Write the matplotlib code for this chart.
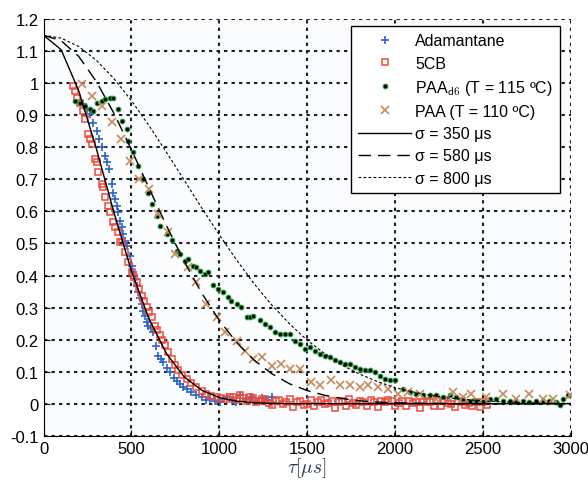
import matplotlib
matplotlib.use("Agg")
import matplotlib.pyplot as plt

plt.rcParams['font.family'] = ['Liberation Sans', 'DejaVu Sans']
plt.rcParams['mathtext.fontset'] = 'cm'

# Adamantane (+)
ada_x = [226, 245, 264, 283, 302, 317, 331, 349, 359, 374, 387, 397, 406, 416, 425, 435, 444, 453, 463,
         473, 491, 501, 510, 520, 530, 539, 548, 558, 567, 577, 586, 595, 610, 624, 640, 652, 667, 681,
         700, 719, 740, 758, 776, 795, 814, 840, 870, 900, 925, 946, 975, 1003, 1020, 1041, 1070, 1095,
         1117, 1150, 1180, 1210, 1240, 1270, 1300]
ada_y = [0.935, 0.919, 0.903, 0.877, 0.851, 0.826, 0.800, 0.774, 0.753, 0.732, 0.685, 0.659, 0.639, 0.618,
         0.597, 0.571, 0.550, 0.530, 0.509, 0.493, 0.462, 0.431, 0.410, 0.389, 0.368, 0.348, 0.330, 0.312,
         0.290, 0.275, 0.255, 0.244, 0.235, 0.223, 0.180, 0.150, 0.140, 0.130, 0.110, 0.099, 0.080, 0.070,
         0.062, 0.052, 0.047, 0.035, 0.026, 0.020, 0.012, 0.016, 0.008, 0.005, 0.014, 0.021, 0.012, 0.006,
         0.026, 0.015, 0.022, 0.010, 0.018, 0.012, 0.020]

# 5CB (squares)
cb_x = [169, 179, 189, 207, 226, 236, 255, 264, 274, 293, 302, 311, 331, 340, 349, 368, 378, 397, 406,
        425, 435, 444, 463, 482, 501, 515, 530, 545, 558, 572, 586, 600, 615, 634, 648, 662, 676, 690,
        710, 728, 748, 766, 790, 814, 840, 870, 900, 927, 955, 984, 1010, 1041, 1060, 1080, 1100, 1117,
        1135, 1155, 1172, 1190, 1210, 1230, 1245, 1260, 1280,
        1300, 1320, 1340, 1360, 1380, 1400, 1420, 1440, 1460, 1480,
        1500, 1520, 1540, 1560, 1580, 1600, 1620, 1640, 1660, 1680,
        1700, 1720, 1740, 1760, 1780, 1800, 1820, 1840, 1860, 1880,
        1900, 1920, 1940, 1960, 1980, 2000, 2020, 2040, 2060, 2080,
        2100, 2120, 2140, 2160, 2180, 2200, 2220, 2240, 2260, 2280,
        2300, 2320, 2340, 2360, 2380, 2400, 2420, 2440, 2460, 2480,
        2500, 2520]
cb_y = [0.992, 0.976, 0.955, 0.940, 0.914, 0.888, 0.841, 0.826, 0.810, 0.763, 0.753, 0.722, 0.685, 0.675,
        0.644, 0.618, 0.597, 0.566, 0.550, 0.535, 0.504, 0.504, 0.473, 0.441, 0.410, 0.395, 0.379, 0.358,
        0.337, 0.320, 0.301, 0.285, 0.270, 0.244, 0.230, 0.213, 0.198, 0.182, 0.160, 0.140, 0.120, 0.104,
        0.090, 0.078, 0.065, 0.052, 0.040, 0.031, 0.025, 0.021, 0.018, 0.016, 0.022, 0.020, 0.012, 0.026,
        0.018, 0.010, 0.020, 0.018, 0.006, 0.008, 0.016, 0.015, 0.002, -0.005,
        0.010, 0.012, -0.002, 0.004, 0.014, -0.010, 0.006, 0.010, -0.004, 0.000,
        0.012, -0.008, 0.004, 0.012, -0.002, 0.002, 0.008, -0.012, 0.006, 0.008,
        -0.006, 0.014, 0.002, -0.004, 0.010, 0.006, -0.008, 0.012, 0.004, -0.010,
        0.008, 0.004, 0.012, 0.010, -0.006, 0.002, 0.008, -0.008, 0.010, 0.002,
        0.006, -0.012, 0.004, 0.010, 0.004, -0.006, 0.008, -0.008, 0.012, 0.002,
        0.000, -0.010, 0.008, 0.006, -0.004, 0.002, -0.008, 0.004, -0.010, 0.006,
        -0.004]

# PAA d6 (dots)
d6_x = [179, 207, 236, 264, 283, 302, 331, 349, 378, 397, 425, 444, 473, 482, 510, 539, 567, 595, 615,
        643, 662, 700, 728, 757, 776, 804, 823, 851, 870, 889, 918, 936, 965, 993, 1022, 1050, 1069, 1098,
        1126, 1155, 1173, 1192, 1230, 1259, 1287, 1315, 1344, 1372, 1401, 1429, 1457, 1486, 1514, 1543,
        1571, 1599, 1628, 1656, 1685, 1713, 1741, 1770, 1798, 1827, 1855, 1884, 1912, 1940, 1969, 1997,
        2044, 2083, 2121, 2158, 2196, 2234, 2272, 2310, 2348, 2385, 2423, 2461, 2499, 2537, 2575, 2613,
        2651, 2689, 2726, 2764, 2802, 2840, 2878, 2916, 2935, 2953, 2982]
d6_y = [0.945, 0.940, 0.929, 0.919, 0.914, 0.940, 0.945, 0.950, 0.955, 0.955, 0.919, 0.883, 0.857, 0.820,
        0.784, 0.742, 0.701, 0.659, 0.623, 0.587, 0.555, 0.530, 0.510, 0.478, 0.467, 0.446, 0.452, 0.431,
        0.426, 0.415, 0.405, 0.410, 0.369, 0.358, 0.348, 0.332, 0.322, 0.312, 0.301, 0.270, 0.270, 0.275,
        0.260, 0.249, 0.239, 0.223, 0.218, 0.218, 0.218, 0.197, 0.187, 0.171, 0.177, 0.166, 0.156, 0.150,
        0.145, 0.135, 0.130, 0.125, 0.125, 0.114, 0.109, 0.104, 0.104, 0.099, 0.088, 0.078, 0.073, 0.073,
        0.047, 0.036, 0.031, 0.026, 0.026, 0.026, 0.021, 0.026, 0.021, 0.016, 0.010, 0.010, 0.005, 0.016,
        0.016, 0.010, 0.010, 0.007, 0.010, 0.005, 0.010, 0.010, 0.007, 0.005, -0.005, 0.016, 0.026]

# PAA (x)
paa_x = [217, 274, 331, 387, 439, 491, 544, 599, 652, 709, 747, 823, 870, 927, 984, 1031, 1098, 1145,
         1192, 1240, 1297, 1353, 1401, 1457, 1524, 1571, 1638, 1685, 1741, 1798, 1846, 1903, 1960, 2016,
         2073, 2139, 2234, 2329, 2385, 2433, 2518, 2613, 2689, 2764, 2840, 2897, 2992]
paa_y = [0.997, 0.960, 0.929, 0.879, 0.827, 0.758, 0.701, 0.670, 0.592, 0.535, 0.467, 0.426, 0.379, 0.312,
         0.270, 0.223, 0.197, 0.164, 0.140, 0.145, 0.119, 0.125, 0.109, 0.109, 0.068, 0.057, 0.073, 0.057,
         0.057, 0.052, 0.057, 0.052, 0.047, 0.031, 0.036, 0.031, 0.016, 0.036, 0.021, 0.031, 0.021, 0.031,
         0.016, 0.031, 0.016, 0.016, 0.026]

# model curves
fit_x = [0, 100, 200, 300, 400, 500, 600, 700, 800, 900, 1000, 1100, 1200, 1300, 1400, 1500, 1600,
         1700, 1800, 1900, 2000, 2100, 2200, 2300, 2400, 2500, 2600, 2700, 2800, 2900, 3000]
fit_350 = [1.15, 1.105, 0.977, 0.797, 0.598, 0.414, 0.265, 0.156, 0.084, 0.042, 0.019, 0.008, 0.003,
           0.001, 0, 0, 0, 0, 0, 0, 0, 0, 0, 0, 0, 0, 0, 0, 0, 0, 0]
fit_580 = [1.15, 1.133, 1.084, 1.006, 0.907, 0.793, 0.673, 0.555, 0.444, 0.345, 0.260, 0.190, 0.135,
           0.093, 0.062, 0.041, 0.026, 0.016, 0.009, 0.005, 0.003, 0.002, 0.001, 0, 0, 0, 0, 0, 0, 0, 0]
fit_800 = [1.15, 1.141, 1.115, 1.072, 1.015, 0.946, 0.868, 0.784, 0.698, 0.611, 0.527, 0.447, 0.373,
           0.307, 0.249, 0.198, 0.156, 0.120, 0.092, 0.069, 0.050, 0.037, 0.026, 0.018, 0.013, 0.009,
           0.006, 0.004, 0.003, 0.002, 0.001]

fig, ax = plt.subplots(figsize=(5.88, 4.81), dpi=100)
fig.subplots_adjust(left=0.074, right=0.971, top=0.958, bottom=0.092)
ax.set_facecolor('#fbfcfe')

ax.plot(ada_x, ada_y, '+', color='#2a64c8', markersize=6, mew=1.2, label='Adamantane')
ax.plot(cb_x, cb_y, 's', color='#ee4a3c', mfc='none', markersize=4.3, mew=1.1, label='5CB')
ax.plot(d6_x, d6_y, 'o', mfc='black', mec='#1f9a3a', markersize=3.3, mew=0.8,
        label='PAA$_{\\mathsf{d6}}$ (T = 115 ºC)')
ax.plot(paa_x, paa_y, 'x', color='#c98a5a', markersize=6, mew=1.2, label='PAA (T = 110 ºC)')
ax.plot(fit_x, fit_350, '-', color='black', lw=1.0, label='σ = 350 μs')
ax.plot(fit_x, fit_580, color='black', lw=1.0, dashes=(9, 5), label='σ = 580 μs')
ax.plot(fit_x, fit_800, color='black', lw=0.8, dashes=(2.5, 2), label='σ = 800 μs')

ax.set_xlim(0, 3000)
ax.set_ylim(-0.1, 1.2)
ax.set_xticks(range(0, 3001, 500))
ax.set_yticks([-0.1, 0, 0.1, 0.2, 0.3, 0.4, 0.5, 0.6, 0.7, 0.8, 0.9, 1, 1.1, 1.2])
ax.set_yticklabels(['-0.1', '0', '0.1', '0.2', '0.3', '0.4', '0.5', '0.6', '0.7', '0.8', '0.9',
                    '1', '1.1', '1.2'])
ax.tick_params(direction='in', labelsize=12, length=4)
ax.grid(True, color='#1a1f2a', linestyle=(0, (1.6, 2)), linewidth=1.5)
ax.spines['top'].set_visible(False)
ax.spines['right'].set_visible(False)
ax.set_xlabel(r'$\tau[\mu s]$', fontsize=14, color='#2a3550', labelpad=0)

leg = ax.legend(loc='upper right', bbox_to_anchor=(0.979, 0.983), borderaxespad=0,
                fontsize=11.5, frameon=True, fancybox=False, edgecolor='black', framealpha=1,
                handlelength=3.3, borderpad=0.45, labelspacing=0.45, handletextpad=0.25)
leg.get_frame().set_linewidth(1.0)

fig.savefig('out.png', dpi=100)
